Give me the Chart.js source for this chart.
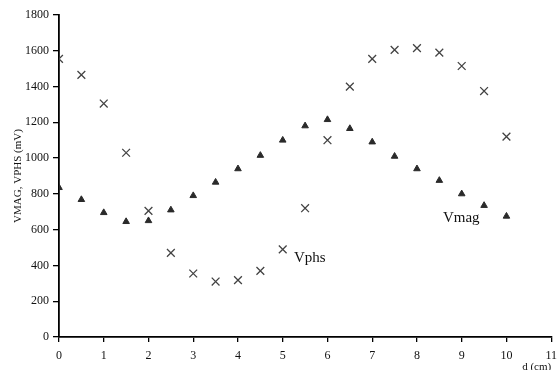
<!DOCTYPE html>
<html>
<head>
<meta charset="utf-8">
<script src="https://cdn.jsdelivr.net/npm/chart.js@4/dist/chart.umd.min.js"></script>
<style>
html,body{margin:0;padding:0;background:#fff;}
#wrap{width:558px;height:370px;position:relative;}
</style>
</head>
<body>
<div id="wrap"><canvas id="c" width="558" height="370"></canvas></div>
<script>
const distances = [0,0.5,1,1.5,2,2.5,3,3.5,4,4.5,5,5.5,6,6.5,7,7.5,8,8.5,9,9.5,10];
const vmag = [835,768,695,645,650,710,790,865,940,1015,1100,1180,1215,1165,1090,1010,940,875,800,735,675];
const vphs = [1555,1465,1305,1030,705,470,355,310,318,370,490,720,1100,1400,1555,1605,1615,1590,1515,1375,1120];
const xTicks = [0,1,2,3,4,5,6,7,8,9,10,11];
const yTicks = [0,200,400,600,800,1000,1200,1400,1600,1800];
const seriesLabels = [{text:'Vphs', x:5.25, y:440}, {text:'Vmag', x:8.58, y:665}];

const toPts = arr => arr.map((v,i)=>({x:distances[i], y:v}));
const serif = "'Liberation Serif', 'Times New Roman', serif";

const labelPlugin = {
  id:'seriesLabels',
  afterDatasetsDraw(chart){
    const {ctx, scales:{x,y}} = chart;
    ctx.save();
    ctx.font = "15px " + serif;
    ctx.fillStyle = '#111';
    ctx.textAlign = 'left';
    ctx.textBaseline = 'middle';
    seriesLabels.forEach(l=>{
      ctx.fillText(l.text, x.getPixelForValue(l.x), y.getPixelForValue(l.y));
    });
    ctx.restore();
  }
};

new Chart(document.getElementById('c'), {
  type:'scatter',
  data:{
    datasets:[
      {label:'Vphs', data:toPts(vphs), pointStyle:'crossRot', pointRadius:5.5, borderColor:'#444', borderWidth:1.3, backgroundColor:'#444'},
      {label:'Vmag', data:toPts(vmag), pointStyle:'triangle', pointRadius:3.8, borderColor:'#2a2a2a', borderWidth:1, backgroundColor:'#2a2a2a'}
    ]
  },
  options:{
    responsive:false,
    animation:false,
    layout:{padding:{left:0,right:4,top:15,bottom:0}},
    plugins:{legend:{display:false}, tooltip:{enabled:false}},
    scales:{
      x:{
        type:'linear', min:0, max:11,
        afterBuildTicks(s){ s.ticks = xTicks.map(v=>({value:v})); },
        afterFit(s){ s.height = 33; s.paddingRight = 0; s.paddingLeft = 0; },
        grid:{drawOnChartArea:false, drawTicks:true, tickLength:5, color:'#000', lineWidth:1.3},
        border:{display:true, color:'#000', width:1.8},
        ticks:{font:{family:serif, size:12}, color:'#111', padding:7, maxRotation:0, autoSkip:false, callback:v=>String(v)},
        title:{display:true, text:'d (cm)', align:'end', font:{family:serif, size:11}, color:'#111', padding:{top:0,bottom:-4}}
      },
      y:{
        type:'linear', min:0, max:1800,
        afterBuildTicks(s){ s.ticks = yTicks.map(v=>({value:v})); },
        afterFit(s){ s.width = 59; },
        grid:{drawOnChartArea:false, drawTicks:true, tickLength:6, color:'#000', lineWidth:1.3},
        border:{display:true, color:'#000', width:1.8},
        ticks:{font:{family:serif, size:12}, color:'#111', padding:4, autoSkip:false, callback:v=>String(v)},
        title:{display:true, text:'VMAG, VPHS (mV)', font:{family:serif, size:11}, color:'#111', padding:{top:12,bottom:0}}
      }
    }
  },
  plugins:[labelPlugin]
});
</script>
</body>
</html>
